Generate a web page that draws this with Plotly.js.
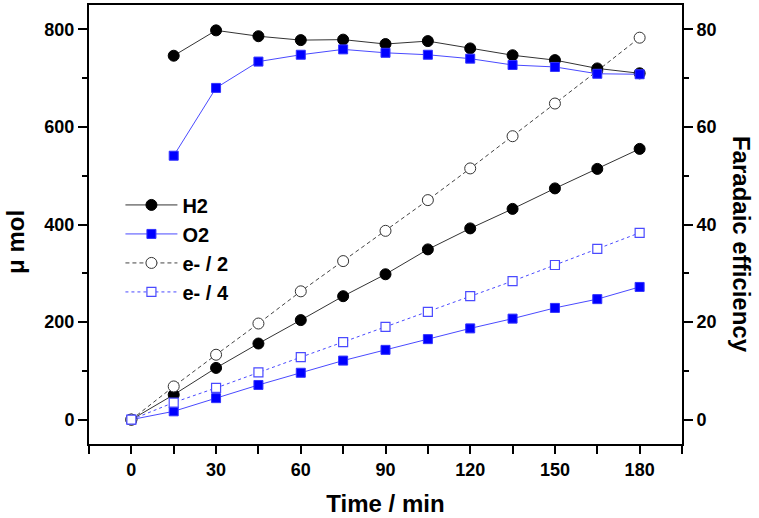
<!DOCTYPE html>
<html>
<head>
<meta charset="utf-8">
<script src="https://cdn.plot.ly/plotly-3.0.1.min.js"></script>
<style>html,body{margin:0;padding:0;background:#fff;}#chart{width:759px;height:518px;}</style>
</head>
<body>
<div id="chart"></div>
<script>
// Data
const time = [0, 15, 30, 45, 60, 75, 90, 105, 120, 135, 150, 165, 180];
const h2 = [0, 51, 106, 156, 204, 253, 298, 349, 392, 432, 474, 514, 555];
const o2 = [0, 17, 44, 71, 96, 121, 143, 165, 187, 207, 229, 247, 272];
const eHalf = [0, 68, 133, 197, 263, 325, 387, 450, 515, 581, 648, 715, 783];
const eQuarter = [0, 35, 65, 97, 128, 159, 190, 221, 253, 284, 317, 350, 383];
const feTime = [15, 30, 45, 60, 75, 90, 105, 120, 135, 150, 165, 180];
const feH2 = [74.6, 79.8, 78.6, 77.8, 77.9, 77.0, 77.6, 76.1, 74.7, 73.7, 72.0, 71.0];
const feO2 = [54.1, 68.0, 73.4, 74.8, 75.9, 75.2, 74.8, 74.0, 72.7, 72.3, 70.9, 70.8];
const yTicks = [0, 200, 400, 600, 800];
const y2Ticks = [0, 20, 40, 60, 80];
const xTicks = [0, 30, 60, 90, 120, 150, 180];

const FONT = 'Liberation Sans, Arial, Helvetica, sans-serif';

const traces = [
  {x: time, y: h2, name: 'H2', mode: 'lines+markers',
   line: {color: '#333333', width: 1},
   marker: {symbol: 'circle', size: 11, color: '#000000', line: {color: '#000000', width: 1}}},
  {x: time, y: o2, name: 'O2', mode: 'lines+markers',
   line: {color: '#4a4aff', width: 1},
   marker: {symbol: 'square', size: 9, color: '#0000ff', line: {color: '#3333ff', width: 1}}},
  {x: time, y: eHalf, name: 'e- / 2', mode: 'lines+markers',
   line: {color: '#444444', width: 1, dash: '4px,3px'},
   marker: {symbol: 'circle', size: 11, color: '#ffffff', line: {color: '#333333', width: 1}}},
  {x: time, y: eQuarter, name: 'e- / 4', mode: 'lines+markers',
   line: {color: '#4a4aff', width: 1, dash: '3px,3px'},
   marker: {symbol: 'square', size: 9, color: '#ffffff', line: {color: '#4a4aff', width: 1.2}}},
  {x: feTime, y: feH2, yaxis: 'y2', name: 'FE H2', showlegend: false, mode: 'lines+markers',
   line: {color: '#333333', width: 1},
   marker: {symbol: 'circle', size: 11, color: '#000000', line: {color: '#000000', width: 1}}},
  {x: feTime, y: feO2, yaxis: 'y2', name: 'FE O2', showlegend: false, mode: 'lines+markers',
   line: {color: '#4a4aff', width: 1},
   marker: {symbol: 'square', size: 9, color: '#0000ff', line: {color: '#3333ff', width: 1}}}
];

const tickfont = {family: FONT, size: 18, color: '#000', weight: 'bold'};
const titlefont = {family: FONT, size: 24, color: '#000', weight: 'bold'};

const layout = {
  width: 759, height: 518,
  margin: {l: 89, r: 77, t: 5, b: 74},
  paper_bgcolor: '#fff', plot_bgcolor: '#fff',
  showlegend: true,
  legend: {x: 0.053, xanchor: 'left', y: 0.589, yanchor: 'top',
           font: {family: FONT, size: 20, color: '#000', weight: 'bold'},
           bgcolor: 'rgba(0,0,0,0)', tracegroupgap: 0, itemwidth: 52},
  xaxis: {range: [-15, 195], tickvals: xTicks, ticktext: xTicks.map(String),
          ticks: 'outside', ticklen: 8, tickwidth: 2, tickcolor: '#000',
          minor: {dtick: 15, tick0: 0, ticks: 'outside', ticklen: 8, tickwidth: 2, tickcolor: '#000', showgrid: false},
          showline: true, linewidth: 2, linecolor: '#000', mirror: true,
          showgrid: false, zeroline: false, tickfont: tickfont,
          title: {text: 'Time / min', font: titlefont, standoff: 17}},
  yaxis: {range: [-50, 850], tickvals: yTicks, ticktext: yTicks.map(String),
          ticks: 'outside', ticklen: 9, tickwidth: 2, tickcolor: '#000',
          minor: {dtick: 100, tick0: 0, ticks: 'outside', ticklen: 5, tickwidth: 2, tickcolor: '#000', showgrid: false},
          showline: true, linewidth: 2, linecolor: '#000',
          showgrid: false, zeroline: false, tickfont: tickfont},
  yaxis2: {range: [-5, 85], overlaying: 'y', side: 'right', tickvals: y2Ticks, ticktext: y2Ticks.map(String),
           ticks: 'outside', ticklen: 9, tickwidth: 2, tickcolor: '#000',
           minor: {dtick: 10, tick0: 0, ticks: 'outside', ticklen: 5, tickwidth: 2, tickcolor: '#000', showgrid: false},
           showline: true, linewidth: 2, linecolor: '#000',
           showgrid: false, zeroline: false, tickfont: tickfont},
  annotations: [
    {text: 'μ mol', xref: 'paper', yref: 'paper', x: -0.125, y: 0.46,
     xanchor: 'center', yanchor: 'middle', showarrow: false, textangle: -90,
     font: titlefont},
    {text: 'Faradaic efficiency', xref: 'paper', yref: 'paper', x: 1.1, y: 0.455,
     xanchor: 'center', yanchor: 'middle', showarrow: false, textangle: 90,
     font: titlefont}
  ]
};

Plotly.newPlot('chart', traces, layout, {displayModeBar: false, staticPlot: true});
</script>
</body>
</html>
